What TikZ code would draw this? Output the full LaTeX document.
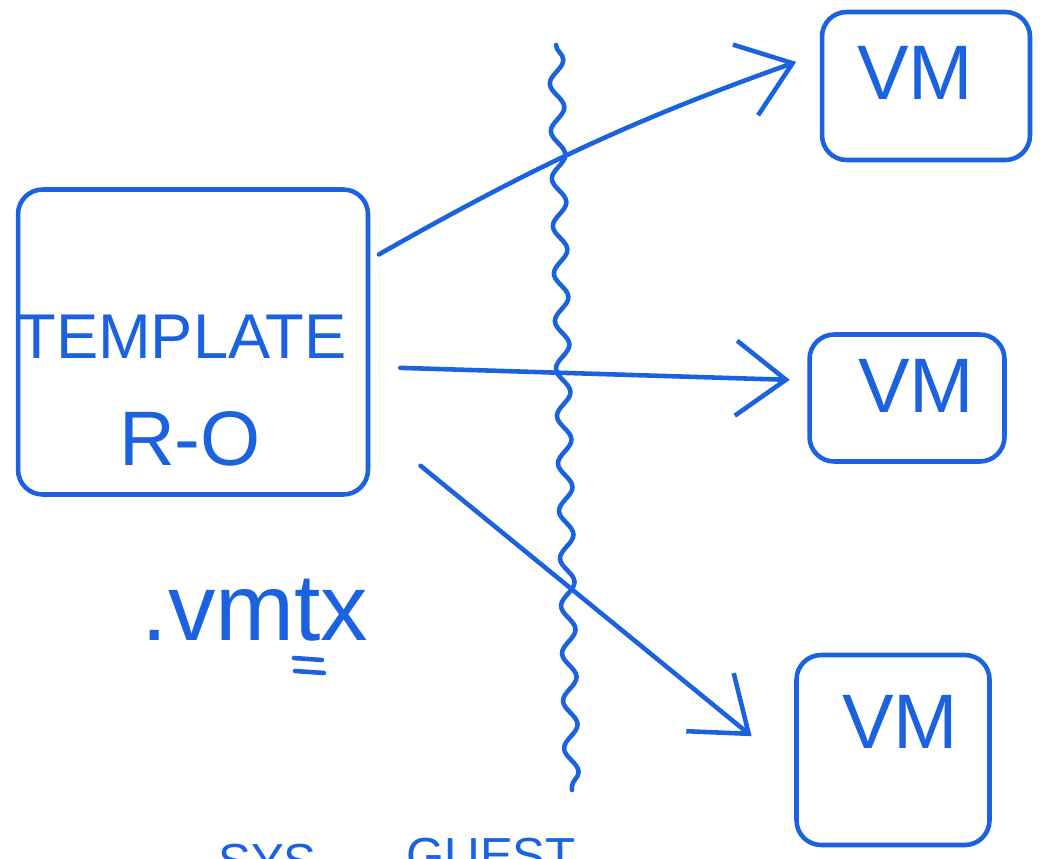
\documentclass[tikz,border=0pt]{standalone}
\usepackage{fontspec}
\setmainfont{Liberation Sans}
\usetikzlibrary{positioning,arrows.meta,decorations.pathmorphing}
\definecolor{ink}{HTML}{1A62E0}

\begin{document}
\begin{tikzpicture}[x=0.02cm,y=-0.02cm,
    every node/.style={text=ink},
    box/.style={draw=ink,line width=2.6pt,rounded corners=14pt},
    hand/.style={font=\fontsize{44}{50}\selectfont,anchor=base},
    pen/.style={draw=ink,line width=2.6pt,line cap=round},
    arr/.style={pen,-{Straight Barb[length=1cm,width=1.5cm]}}]
    \useasboundingbox (0,0) rectangle (1057,858);
    % template on the left
    \node[box,minimum width=7cm,minimum height=6.1cm] (tpl) at (193,342) {};
    \node[hand,font=\fontsize{36}{40}\selectfont] (tname) at (182,358) {TEMPLATE};
    \node[hand] (tmode) at (190,465) {R-O};
    \node[hand,inner sep=0pt,font=\fontsize{54}{60}\selectfont] (ext) at (255,640) {.vmtx};
    % double underline below the t
    \coordinate (ua) at (294,658); \coordinate (ub) at (322,660);
    \coordinate (uc) at (295,671); \coordinate (ud) at (324,673);
    \draw[pen] (ua) -- (ub);
    \draw[pen] (uc) -- (ud);
    % the three VMs
    \node[box,minimum width=4.16cm,minimum height=2.96cm] (vm1) at (926,86) {};
    \node[hand] (vm1txt) at (915,100) {VM};
    \node[box,minimum width=3.9cm,minimum height=2.54cm] (vm2) at (907,398) {};
    \node[hand] (vm2txt) at (916,412) {VM};
    \node[box,minimum width=3.86cm,minimum height=3.8cm] (vm3) at (893,750) {};
    \node[hand] (vm3txt) at (900,748) {VM};
    % boundary line
    \coordinate (wtop) at (556,45);
    \coordinate (wbot) at (572,790);
    \draw[pen,decorate,decoration={snake,amplitude=0.14cm,segment length=0.95cm}] (wtop) -- (wbot);
    % copies
    \draw[arr,shorten <=0.2cm,shorten >=0.5cm] (tpl.25) to[bend left=5] (vm1.163);
    \draw[arr,shorten <=0.6cm,shorten >=0.35cm] (tpl.-8) -- (vm2.170);
    \draw[arr,shorten <=1.3cm,shorten >=1.1cm] (tpl.-25) -- (vm3.192);
    % bottom line, cut off
    \node[hand,anchor=base west,font=\fontsize{28}{32}\selectfont] (guest) at (400,872) {GUEST};
    \node[hand,anchor=base west,font=\fontsize{28}{32}\selectfont] (sys) at (212,878) {SYS};
\end{tikzpicture}
\end{document}
